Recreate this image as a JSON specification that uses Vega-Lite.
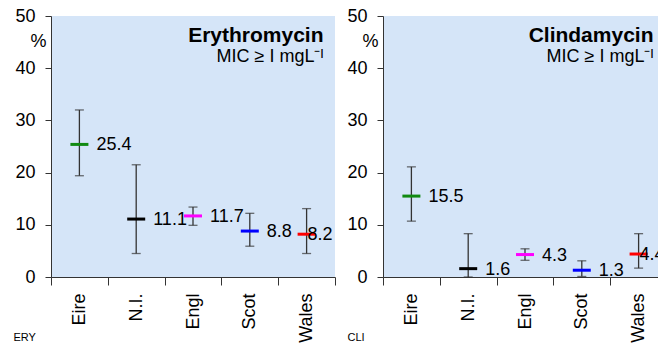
{
  "$schema": "https://vega.github.io/schema/vega-lite/v6.json",
  "background": "white",
  "padding": {"left": 13, "top": 7, "right": 0, "bottom": 0},
  "config": {
    "font": "Liberation Sans",
    "view": {"fill": "#d5e5f8", "stroke": null},
    "concat": {"spacing": 10},
    "axis": {"domainColor": "#333333", "tickColor": "#333333", "labelColor": "black", "titleColor": "black", "grid": false, "labelFontSize": 18, "titleFontWeight": "normal"}
  },
  "datasets": {
    "d": [
      {"drug": "Erythromycin", "country": "Eire", "mean": 25.4, "lo": 19.4, "hi": 32.0},
      {"drug": "Erythromycin", "country": "N.I.", "mean": 11.1, "lo": 4.5, "hi": 21.5},
      {"drug": "Erythromycin", "country": "Engl", "mean": 11.7, "lo": 9.9, "hi": 13.4},
      {"drug": "Erythromycin", "country": "Scot", "mean": 8.8, "lo": 5.9, "hi": 12.2},
      {"drug": "Erythromycin", "country": "Wales", "mean": 8.2, "lo": 4.5, "hi": 13.1},
      {"drug": "Clindamycin", "country": "Eire", "mean": 15.5, "lo": 10.7, "hi": 21.1},
      {"drug": "Clindamycin", "country": "N.I.", "mean": 1.6, "lo": 0.0, "hi": 8.3},
      {"drug": "Clindamycin", "country": "Engl", "mean": 4.3, "lo": 3.2, "hi": 5.4},
      {"drug": "Clindamycin", "country": "Scot", "mean": 1.3, "lo": 0.1, "hi": 3.1},
      {"drug": "Clindamycin", "country": "Wales", "mean": 4.4, "lo": 1.7, "hi": 8.3}
    ]
  },
  "hconcat": [
    {
      "width": 284,
      "height": 261,
      "data": {"name": "d"},
      "transform": [{"filter": "datum.drug === 'Erythromycin'"}],
      "title": {"text": "Erythromycin", "subtitle": "MIC ≥ I mgL⁻ᴵ", "anchor": "end", "align": "right", "orient": "top", "offset": -59, "dx": -12, "fontSize": 21, "fontWeight": "bold", "color": "black", "subtitleFontSize": 18, "subtitleColor": "black", "subtitlePadding": 2},
      "encoding": {
        "x": {"field": "country", "type": "nominal", "sort": ["Eire", "N.I.", "Engl", "Scot", "Wales"], "scale": {"paddingInner": 0, "paddingOuter": 0},
          "axis": {"title": "ERY", "titleAnchor": "start", "titleAlign": "left", "titleX": -38, "titleY": 63, "titleFontSize": 11, "titleBaseline": "alphabetic", "labelAngle": -90, "labelAlign": "right", "labelBaseline": "middle", "tickBand": "extent", "tickSize": 8, "labelPadding": 8}}
      },
      "layer": [
        {"mark": {"type": "rule", "color": "#333333", "strokeWidth": 1.3},
         "encoding": {"y": {"field": "lo", "type": "quantitative", "scale": {"domain": [0, 50], "nice": false},
            "axis": {"title": "%", "titleAngle": 0, "titleX": -13, "titleY": 30, "titleAlign": "center", "titleBaseline": "alphabetic", "titleFontSize": 18, "values": [0, 10, 20, 30, 40, 50], "tickSize": 6, "labelPadding": 10}},
           "y2": {"field": "hi"}}},
        {"mark": {"type": "tick", "color": "#333333", "size": 9, "thickness": 1.3}, "encoding": {"y": {"field": "lo", "type": "quantitative"}}},
        {"mark": {"type": "tick", "color": "#333333", "size": 9, "thickness": 1.3}, "encoding": {"y": {"field": "hi", "type": "quantitative"}}},
        {"mark": {"type": "tick", "size": 18, "thickness": 3, "opacity": 1},
         "encoding": {"y": {"field": "mean", "type": "quantitative"},
           "color": {"field": "country", "type": "nominal", "legend": null, "scale": {"domain": ["Eire", "N.I.", "Engl", "Scot", "Wales"], "range": ["#118a11", "#000000", "#ff00ff", "#0000ff", "#ff0000"]}}}},
        {"transform": [{"filter": "datum.country !== 'Wales'"}],
         "mark": {"type": "text", "align": "left", "baseline": "middle", "dx": 17, "dy": 1, "fontSize": 18, "color": "black"},
         "encoding": {"y": {"field": "mean", "type": "quantitative"}, "text": {"field": "mean", "type": "quantitative", "format": ".1f"}}},
        {"transform": [{"filter": "datum.country === 'Wales'"}],
         "mark": {"type": "text", "align": "left", "baseline": "middle", "dx": 1, "dy": 1, "fontSize": 18, "color": "black"},
         "encoding": {"y": {"field": "mean", "type": "quantitative"}, "text": {"field": "mean", "type": "quantitative", "format": ".1f"}}}
      ]
    },
    {
      "width": 284,
      "height": 261,
      "data": {"name": "d"},
      "transform": [{"filter": "datum.drug === 'Clindamycin'"}],
      "title": {"text": "Clindamycin", "subtitle": "MIC ≥ I mgL⁻ᴵ", "anchor": "end", "align": "right", "orient": "top", "offset": -59, "dx": -14, "fontSize": 21, "fontWeight": "bold", "color": "black", "subtitleFontSize": 18, "subtitleColor": "black", "subtitlePadding": 2},
      "encoding": {
        "x": {"field": "country", "type": "nominal", "sort": ["Eire", "N.I.", "Engl", "Scot", "Wales"], "scale": {"paddingInner": 0, "paddingOuter": 0},
          "axis": {"title": "CLI", "titleAnchor": "start", "titleAlign": "left", "titleX": -36, "titleY": 63, "titleFontSize": 11, "titleBaseline": "alphabetic", "labelAngle": -90, "labelAlign": "right", "labelBaseline": "middle", "tickBand": "extent", "tickSize": 8, "labelPadding": 8}}
      },
      "layer": [
        {"mark": {"type": "rule", "color": "#333333", "strokeWidth": 1.3},
         "encoding": {"y": {"field": "lo", "type": "quantitative", "scale": {"domain": [0, 50], "nice": false},
            "axis": {"title": "%", "titleAngle": 0, "titleX": -13, "titleY": 30, "titleAlign": "center", "titleBaseline": "alphabetic", "titleFontSize": 18, "values": [0, 10, 20, 30, 40, 50], "tickSize": 6, "labelPadding": 10}},
           "y2": {"field": "hi"}}},
        {"mark": {"type": "tick", "color": "#333333", "size": 9, "thickness": 1.3}, "encoding": {"y": {"field": "lo", "type": "quantitative"}}},
        {"mark": {"type": "tick", "color": "#333333", "size": 9, "thickness": 1.3}, "encoding": {"y": {"field": "hi", "type": "quantitative"}}},
        {"mark": {"type": "tick", "size": 18, "thickness": 3, "opacity": 1},
         "encoding": {"y": {"field": "mean", "type": "quantitative"},
           "color": {"field": "country", "type": "nominal", "legend": null, "scale": {"domain": ["Eire", "N.I.", "Engl", "Scot", "Wales"], "range": ["#118a11", "#000000", "#ff00ff", "#0000ff", "#ff0000"]}}}},
        {"transform": [{"filter": "datum.country !== 'Wales'"}],
         "mark": {"type": "text", "align": "left", "baseline": "middle", "dx": 17, "dy": 1, "fontSize": 18, "color": "black"},
         "encoding": {"y": {"field": "mean", "type": "quantitative"}, "text": {"field": "mean", "type": "quantitative", "format": ".1f"}}},
        {"transform": [{"filter": "datum.country === 'Wales'"}],
         "mark": {"type": "text", "align": "left", "baseline": "middle", "dx": 1, "dy": 1, "fontSize": 18, "color": "black"},
         "encoding": {"y": {"field": "mean", "type": "quantitative"}, "text": {"field": "mean", "type": "quantitative", "format": ".1f"}}}
      ]
    }
  ]
}
